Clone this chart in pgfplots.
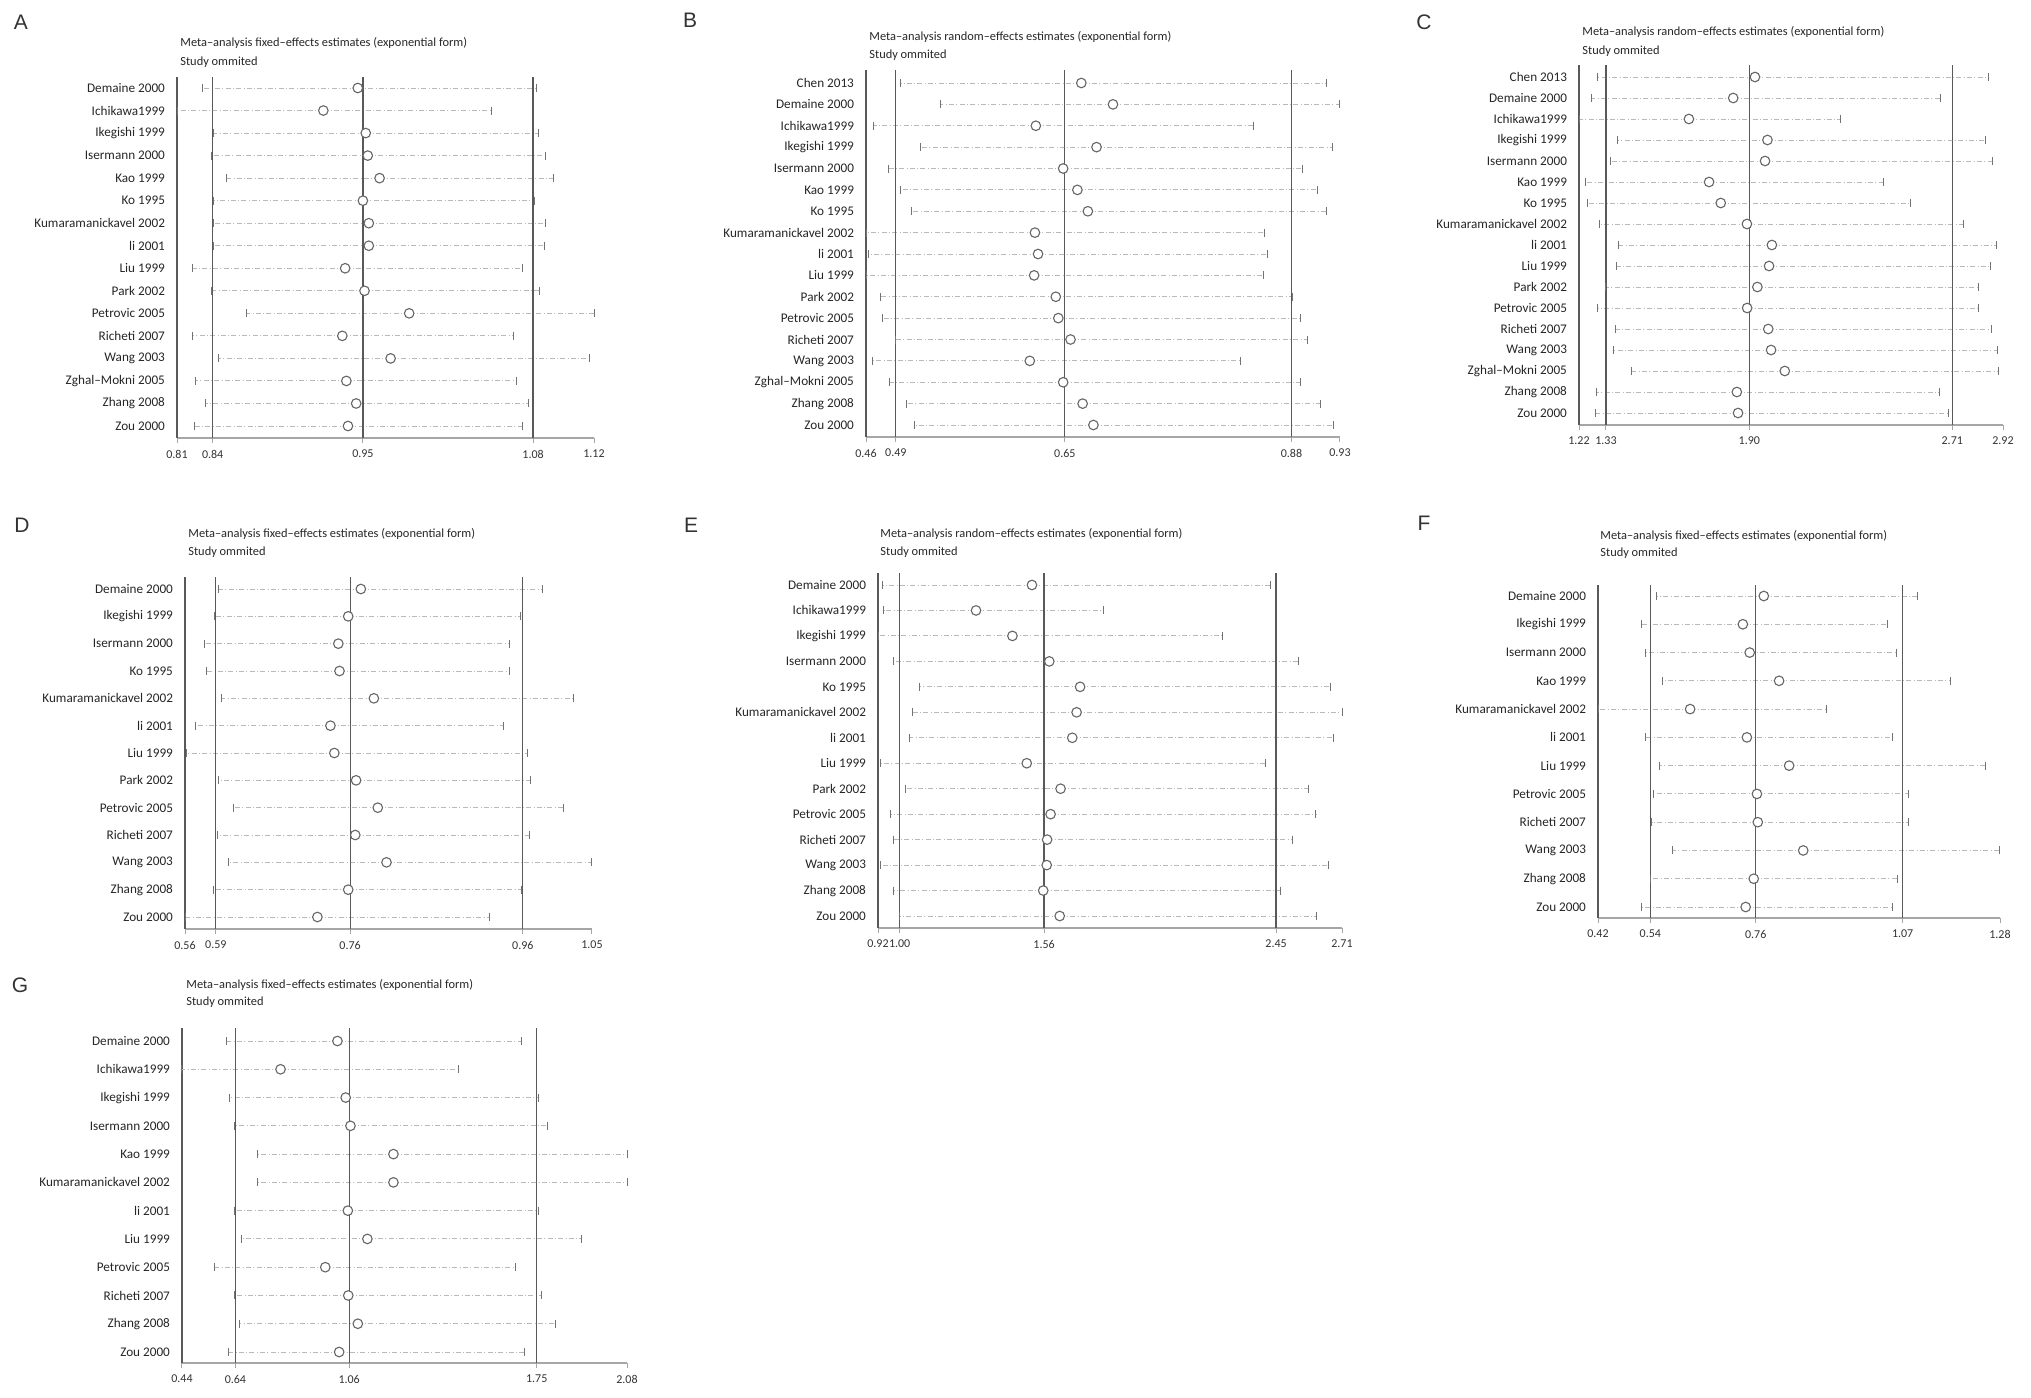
\documentclass[border=0pt]{standalone}
\usepackage{fontspec}
\setmainfont{Carlito}
\newfontfamily\letterfont{Liberation Sans}
\usepackage{pgfplots}
\usepackage{pgfplotstable}
\pgfplotsset{compat=1.18}

% leave-one-out influence plots, one table per panel: name, row, lower, estimate, upper
\pgfplotstableread[col sep=comma]{
name,y,lo,est,hi
Demaine 2000,16,0.8288,0.9444,1.0773
Ichikawa1999,15,0.8100,0.9188,1.0435
Ikegishi 1999,14,0.8371,0.9503,1.0788
Isermann 2000,13,0.8356,0.9518,1.0841
Kao 1999,12,0.8468,0.9606,1.0900
Ko 1995,11,0.8371,0.9482,1.0759
Kumaramanickavel 2002,10,0.8371,0.9526,1.0841
li 2001,9,0.8374,0.9526,1.0832
Liu 1999,8,0.8212,0.9350,1.0665
Park 2002,7,0.8356,0.9494,1.0797
Petrovic 2005,6,0.8618,0.9826,1.1200
Richeti 2007,5,0.8215,0.9329,1.0600
Wang 2003,4,0.8409,0.9688,1.1165
Zghal–Mokni 2005,3,0.8238,0.9359,1.0626
Zhang 2008,2,0.8312,0.9432,1.0715
Zou 2000,1,0.8232,0.9371,1.0665
}\tabA

\pgfplotstableread[col sep=comma]{
name,y,lo,est,hi
Chen 2013,17,0.4944,0.6735,0.9171
Demaine 2000,16,0.5339,0.7049,0.9300
Ichikawa1999,15,0.4677,0.6284,0.8441
Ikegishi 1999,14,0.5137,0.6886,0.9227
Isermann 2000,13,0.4823,0.6555,0.8926
Kao 1999,12,0.4939,0.6696,0.9076
Ko 1995,11,0.5047,0.6800,0.9162
Kumaramanickavel 2002,10,0.4600,0.6275,0.8552
li 2001,9,0.4626,0.6306,0.8582
Liu 1999,8,0.4600,0.6267,0.8539
Park 2002,7,0.4746,0.6482,0.8832
Petrovic 2005,6,0.4759,0.6507,0.8905
Richeti 2007,5,0.4888,0.6628,0.8982
Wang 2003,4,0.4660,0.6224,0.8312
Zghal–Mokni 2005,3,0.4832,0.6555,0.8905
Zhang 2008,2,0.5004,0.6748,0.9106
Zou 2000,1,0.5085,0.6855,0.9235
}\tabB

\pgfplotstableread[col sep=comma]{
name,y,lo,est,hi
Chen 2013,17,1.2959,1.9255,2.8618
Demaine 2000,16,1.2684,1.8383,2.6697
Ichikawa1999,15,1.2200,1.6607,2.2694
Ikegishi 1999,14,1.3750,1.9755,2.8505
Isermann 2000,13,1.3443,1.9659,2.8780
Kao 1999,12,1.2474,1.7415,2.4389
Ko 1995,11,1.2555,1.7883,2.5486
Kumaramanickavel 2002,10,1.3007,1.8932,2.7617
li 2001,9,1.3766,1.9933,2.8941
Liu 1999,8,1.3701,1.9820,2.8699
Park 2002,7,1.3282,1.9352,2.8215
Petrovic 2005,6,1.2959,1.8942,2.8215
Richeti 2007,5,1.3653,1.9788,2.8748
Wang 2003,4,1.3572,1.9901,2.8983
Zghal–Mokni 2005,3,1.4315,2.0450,2.9000
Zhang 2008,2,1.2894,1.8528,2.6649
Zou 2000,1,1.2846,1.8577,2.7004
}\tabC

\pgfplotstableread[col sep=comma]{
name,y,lo,est,hi
Demaine 2000,13,0.6009,0.7717,0.9910
Ikegishi 1999,12,0.5952,0.7565,0.9639
Isermann 2000,11,0.5838,0.7446,0.9501
Ko 1995,10,0.5862,0.7460,0.9506
Kumaramanickavel 2002,9,0.6042,0.7874,1.0276
li 2001,8,0.5724,0.7351,0.9434
Liu 1999,7,0.5614,0.7398,0.9720
Park 2002,6,0.6009,0.7660,0.9762
Petrovic 2005,5,0.6185,0.7921,1.0157
Richeti 2007,4,0.5995,0.7650,0.9753
Wang 2003,3,0.6128,0.8026,1.0500
Zhang 2008,2,0.5947,0.7565,0.9648
Zou 2000,1,0.5600,0.7194,0.9263
}\tabD

\pgfplotstableread[col sep=comma]{
name,y,lo,est,hi
Demaine 2000,14,0.9384,1.5139,2.4357
Ichikawa1999,13,0.9417,1.2981,1.7916
Ikegishi 1999,12,0.9200,1.4386,2.2499
Isermann 2000,11,0.9802,1.5808,2.5427
Ko 1995,10,1.0806,1.6996,2.6648
Kumaramanickavel 2002,9,1.0538,1.6862,2.7100
li 2001,8,1.0421,1.6695,2.6765
Liu 1999,7,0.9284,1.4938,2.4139
Park 2002,6,1.0254,1.6243,2.5812
Petrovic 2005,5,0.9668,1.5858,2.6096
Richeti 2007,4,0.9786,1.5724,2.5176
Wang 2003,3,0.9284,1.5708,2.6565
Zhang 2008,2,0.9786,1.5574,2.4724
Zou 2000,1,1.0036,1.6210,2.6113
}\tabE

\pgfplotstableread[col sep=comma]{
name,y,lo,est,hi
Demaine 2000,12,0.5448,0.7747,1.1044
Ikegishi 1999,11,0.5138,0.7299,1.0390
Isermann 2000,10,0.5224,0.7445,1.0596
Kao 1999,9,0.5569,0.8074,1.1750
Kumaramanickavel 2002,8,0.4200,0.6171,0.9098
li 2001,7,0.5207,0.7385,1.0510
Liu 1999,6,0.5526,0.8289,1.2481
Petrovic 2005,5,0.5379,0.7600,1.0846
Richeti 2007,4,0.5345,0.7618,1.0846
Wang 2003,3,0.5784,0.8590,1.2783
Zhang 2008,2,0.5319,0.7532,1.0605
Zou 2000,1,0.5138,0.7359,1.0510
}\tabF

\pgfplotstableread[col sep=comma]{
name,y,lo,est,hi
Demaine 2000,12,0.6048,1.0128,1.6912
Ichikawa1999,11,0.4400,0.8032,1.4592
Ikegishi 1999,10,0.6160,1.0432,1.7520
Isermann 2000,9,0.6320,1.0608,1.7888
Kao 1999,8,0.7168,1.2192,2.0800
Kumaramanickavel 2002,7,0.7168,1.2192,2.0800
li 2001,6,0.6336,1.0512,1.7520
Liu 1999,5,0.6592,1.1232,1.9120
Petrovic 2005,4,0.5600,0.9680,1.6688
Richeti 2007,3,0.6336,1.0528,1.7632
Zhang 2008,2,0.6512,1.0880,1.8160
Zou 2000,1,0.6112,1.0192,1.7008
}\tabG

\pgfplotsset{
  loo/.style={
    scale only axis, anchor=south west, clip=false,
    axis x line=bottom, axis y line=left,
    axis line style={-},
    x axis line style={-, draw=gray!70, line width=1.3pt},
    y axis line style={-, draw=black!65, line width=0.6pt},
    tick align=outside, major tick length=2.5pt,
    xtick style={draw=gray!70, line width=0.5pt},
    ytick style={draw=none},
    ytick=data,
    xticklabel style={font=\fontsize{6}{6}\selectfont, text=black!80},
    yticklabel style={font=\fontsize{6.6}{7}\selectfont, text=black!85},
  },
  cistyle/.style={draw=gray!55, line width=0.45pt,
    dash pattern=on 2.5pt off 1.2pt on 0.4pt off 1.2pt},
  capstyle/.style={only marks, mark=|, mark size=2pt,
    mark options={draw=black!55, line width=0.5pt}},
  circstyle/.style={only marks, mark=*, mark size=2.4pt,
    mark options={fill=white, draw=black!60, line width=0.55pt}},
  refstyle/.style={black!65, line width=0.6pt},
}

% CI segments with end caps (first plot, so that ytick=data takes its rows)
\newcommand{\cirows}[1]{%
  \addplot[only marks, mark=none,
    error bars/.cd, x dir=both, x explicit, error mark=none,
    error bar style={cistyle}]
    table[x=est, y=y,
      x error plus expr=\thisrow{hi}-\thisrow{est},
      x error minus expr=\thisrow{est}-\thisrow{lo}] {#1};
  \addplot[capstyle] table[x=lo, y=y] {#1};
  \addplot[capstyle] table[x=hi, y=y] {#1};
}
% overall lower limit, estimate, upper limit
\newcommand{\refs}[5]{%
  \addplot[refstyle] coordinates {(#1,#4) (#1,#5)};
  \addplot[refstyle] coordinates {(#2,#4) (#2,#5)};
  \addplot[refstyle] coordinates {(#3,#4) (#3,#5)};
}
\newcommand{\estimates}[1]{\addplot[circstyle] table[x=est, y=y] {#1};}

\newcommand{\paneltitle}[4]{%
  \node[anchor=west, inner sep=0pt, font=\fontsize{6.2}{7}\selectfont, text=black!85]
    at (#1pt,#2pt) {#4};
  \node[anchor=west, inner sep=0pt, font=\fontsize{6.2}{7}\selectfont, text=black!85]
    at (#1pt,#3pt) {Study ommited};
}
\newcommand{\panelletter}[3]{%
  \node[inner sep=0pt, font=\letterfont\fontsize{10.5}{11}\selectfont, text=black!80]
    at (#1pt,#2pt) {#3};
}

\begin{document}
\begin{tikzpicture}
\path[use as bounding box] (0,0) rectangle (1015.5pt,-699pt);

% A
\begin{axis}[loo, at={(88.5pt,-219pt)}, width=208.5pt, height=180.5pt,
  xmin=0.81, xmax=1.12, ymin=0.4675, ymax=16.488,
  xtick={0.81,0.8365,0.9482,1.0747,1.12},
  xticklabels={0.81,0.84,0.95,1.08,1.12},
  yticklabels from table={\tabA}{name}]
\cirows{\tabA}
\refs{0.8365}{0.9482}{1.0747}{0.4675}{16.488}
\estimates{\tabA}
\end{axis}

% B
\begin{axis}[loo, at={(433pt,-218.5pt)}, width=237pt, height=183.5pt,
  xmin=0.46, xmax=0.93, ymin=0.4386, ymax=17.608,
  xtick={0.46,0.4896,0.6572,0.8819,0.93},
  xticklabels={0.46,0.49,0.65,0.88,0.93},
  yticklabels from table={\tabB}{name}]
\cirows{\tabB}
\refs{0.4896}{0.6572}{0.8819}{0.4386}{17.608}
\estimates{\tabB}
\end{axis}

% C
\begin{axis}[loo, at={(789.5pt,-212.5pt)}, width=212pt, height=180pt,
  xmin=1.22, xmax=2.92, ymin=0.4286, ymax=17.571,
  xtick={1.22,1.3282,1.9029,2.7166,2.92},
  xticklabels={1.22,1.33,1.90,2.71,2.92},
  yticklabels from table={\tabC}{name}]
\cirows{\tabC}
\refs{1.3282}{1.9029}{2.7166}{0.4286}{17.571}
\estimates{\tabC}
\end{axis}

% D
\begin{axis}[loo, at={(92.5pt,-464.5pt)}, width=203.5pt, height=176pt,
  xmin=0.56, xmax=1.05, ymin=0.561, ymax=13.439,
  xtick={0.56,0.5971,0.7588,0.9667,1.05},
  xticklabels={0.56,0.59,0.76,0.96,1.05},
  yticklabels from table={\tabD}{name}]
\cirows{\tabD}
\refs{0.5971}{0.7588}{0.9667}{0.561}{13.439}
\estimates{\tabD}
\end{axis}

% E
\begin{axis}[loo, at={(439pt,-464pt)}, width=232pt, height=177.5pt,
  xmin=0.92, xmax=2.71, ymin=0.529, ymax=14.471,
  xtick={0.92,1.0036,1.5607,2.4557,2.71},
  xticklabels={0.92,1.00,1.56,2.45,2.71},
  yticklabels from table={\tabE}{name}]
\cirows{\tabE}
\refs{1.0036}{1.5607}{2.4557}{0.529}{14.471}
\estimates{\tabE}
\end{axis}

% F
\begin{axis}[loo, at={(799pt,-459pt)}, width=201pt, height=166.5pt,
  xmin=0.42, xmax=1.28, ymin=0.611, ymax=12.389,
  xtick={0.42,0.5319,0.7575,1.0717,1.28},
  xticklabels={0.42,0.54,0.76,1.07,1.28},
  yticklabels from table={\tabF}{name}]
\cirows{\tabF}
\refs{0.5319}{0.7575}{1.0717}{0.611}{12.389}
\estimates{\tabF}
\end{axis}

% G
\begin{axis}[loo, at={(91pt,-681.5pt)}, width=222.5pt, height=167.5pt,
  xmin=0.44, xmax=2.08, ymin=0.611, ymax=12.46,
  xtick={0.44,0.6368,1.056,1.7472,2.08},
  xticklabels={0.44,0.64,1.06,1.75,2.08},
  yticklabels from table={\tabG}{name}]
\cirows{\tabG}
\refs{0.6368}{1.056}{1.7472}{0.611}{12.46}
\estimates{\tabG}
\end{axis}

\panelletter{10.5}{-11}{A}
\panelletter{345}{-10}{B}
\panelletter{712}{-11}{C}
\panelletter{11}{-262.5}{D}
\panelletter{345.5}{-262.5}{E}
\panelletter{712}{-261.5}{F}
\panelletter{10}{-492.5}{G}

\paneltitle{90}{-21.5}{-31}{Meta–analysis fixed–effects estimates (exponential form)}
\paneltitle{434.5}{-18.5}{-27.5}{Meta–analysis random–effects estimates (exponential form)}
\paneltitle{791}{-16}{-25.5}{Meta–analysis random–effects estimates (exponential form)}
\paneltitle{94}{-267}{-276}{Meta–analysis fixed–effects estimates (exponential form)}
\paneltitle{440}{-267}{-276}{Meta–analysis random–effects estimates (exponential form)}
\paneltitle{800}{-268}{-276.5}{Meta–analysis fixed–effects estimates (exponential form)}
\paneltitle{93}{-492.5}{-501}{Meta–analysis fixed–effects estimates (exponential form)}
\end{tikzpicture}
\end{document}
